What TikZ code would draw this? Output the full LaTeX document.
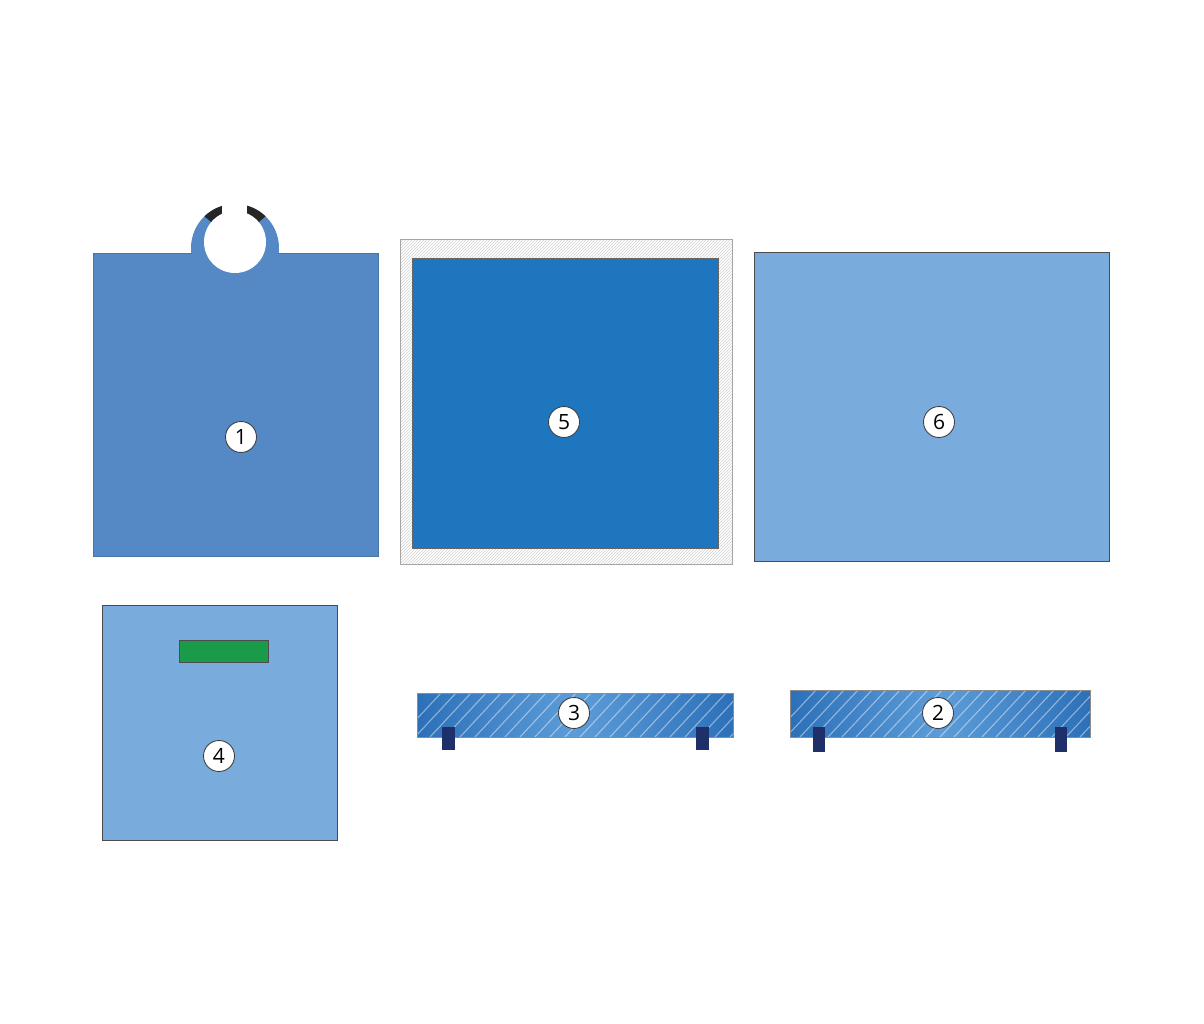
\documentclass[tikz,border=0pt]{standalone}
\usepackage{fontspec}
\setsansfont{Open Sans}
\usetikzlibrary{patterns}
\definecolor{bluea}{HTML}{5489C6}
\definecolor{blued}{HTML}{1E77BE}
\definecolor{bluel}{HTML}{79ACDD}
\definecolor{barmid}{HTML}{5C9CD8}
\definecolor{baredge}{HTML}{2C70B8}
\definecolor{navy}{HTML}{1E2F6A}
\definecolor{greenb}{HTML}{1A9B4A}
\tikzset{
  num/.style={circle,draw=black!75,line width=0.9pt,fill=white,minimum size=31pt,inner sep=0pt,font=\sffamily\fontsize{21}{21}\selectfont},
  panel/.style={draw=black!70,line width=0.8pt},
  foot/.style={fill=navy,draw=none},
  stripe/.style={white,opacity=0.45,line width=1.1pt}
}
\begin{document}
\begin{tikzpicture}[x=1pt,y=-1pt]
\useasboundingbox (0,0) rectangle (1204,1024);
% ---------- item 1 ----------
\fill[bluea] (235,248) circle (44);
\begin{scope}
  \clip (235,242) -- (185,200) -- (185,180) -- (222,180) -- (222,242) -- cycle;
  \fill[black!85] (235,248) circle (44);
\end{scope}
\begin{scope}
  \clip (235,242) -- (285,200) -- (285,180) -- (247,180) -- (247,242) -- cycle;
  \fill[black!85] (235,248) circle (44);
\end{scope}
\fill[bluea] (93,253) rectangle (378,556);
\draw[bluea!85!black,line width=0.6pt] (93,253) rectangle (378,556);
\fill[bluea] (192,252) rectangle (278,258);
\fill[white] (235,242) circle (31);
\fill[white] (222,190) rectangle (247,220);
\node[num] (n1) at (241,437) {1};
% ---------- item 5 ----------
\fill[white] (400,240) rectangle (732,564);
\fill[pattern=north east lines,pattern color=black!18] (400,240) rectangle (732,564);
\draw[black!35,line width=1pt] (400,240) rectangle (732,564);
\fill[blued] (412,258) rectangle (718,548);
\draw[black!60,line width=0.8pt] (412,258) rectangle (718,548);
\node[num] (n5) at (564,422) {5};
% ---------- item 6 ----------
\fill[bluel] (754,252) rectangle (1109,561);
\draw[panel] (754,252) rectangle (1109,561);
\node[num] (n6) at (939,422) {6};
% ---------- item 4 ----------
\fill[bluel] (102,605) rectangle (337,840);
\draw[panel] (102,605) rectangle (337,840);
\fill[greenb] (179,640) rectangle (268,662);
\draw[black!70,line width=0.8pt] (179,640) rectangle (268,662);
\node[num] (n4) at (219,756) {4};
% ---------- item 3 ----------
\shade[left color=baredge,right color=baredge,middle color=barmid] (417,693) rectangle (733,737);
\begin{scope}
\clip (417,693) rectangle (733,737);
\foreach \i in {0,...,24}{
  \draw[stripe] ({400+\i*15},737) -- ({441+\i*15},693);
}
\end{scope}
\draw[black!45,line width=0.6pt] (417,693) rectangle (733,737);
\fill[foot] (442,727) rectangle (455,750);
\fill[foot] (696,727) rectangle (709,750);
\node[num] (n3) at (574,713) {3};
% ---------- item 2 ----------
\shade[left color=baredge,right color=baredge,middle color=barmid] (790,690) rectangle (1090,737);
\begin{scope}
\clip (790,690) rectangle (1090,737);
\foreach \i in {0,...,24}{
  \draw[stripe] ({772+\i*14},737) -- ({816+\i*14},690);
}
\end{scope}
\draw[black!45,line width=0.6pt] (790,690) rectangle (1090,737);
\fill[foot] (813,727) rectangle (825,752);
\fill[foot] (1055,727) rectangle (1067,752);
\node[num] (n2) at (938,713) {2};
\end{tikzpicture}
\end{document}
